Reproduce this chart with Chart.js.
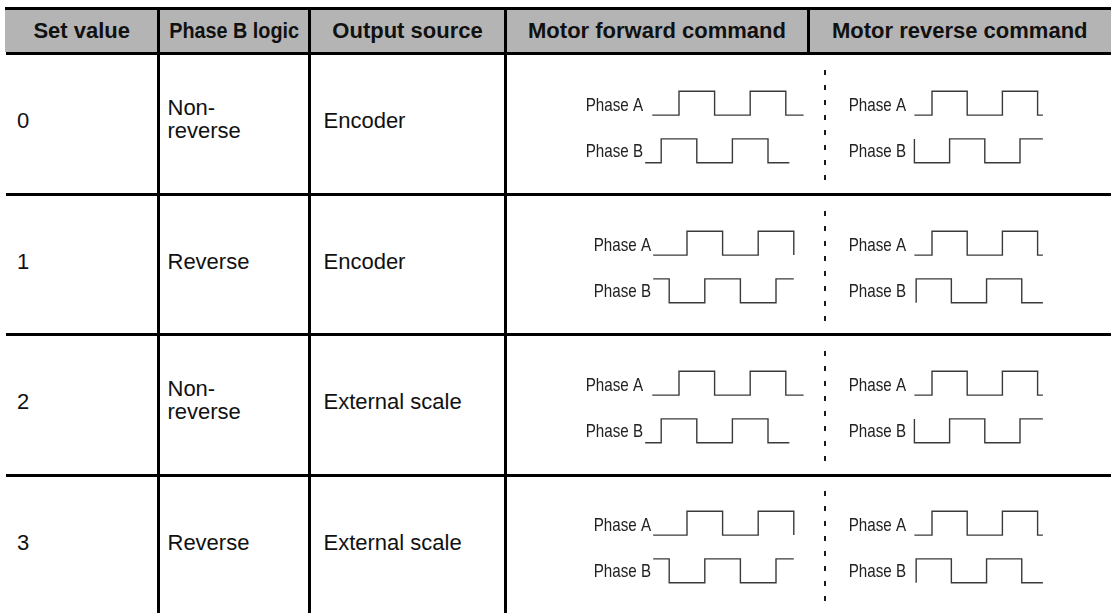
<!DOCTYPE html>
<html>
<head>
<meta charset="utf-8">
<script src="https://cdn.jsdelivr.net/npm/chart.js@4.4.1/dist/chart.umd.min.js"></script>
<style>
  html, body { margin: 0; padding: 0; background: #fff; }
  #page { position: relative; width: 1111px; height: 613px; overflow: hidden;
          font-family: "Liberation Sans", Arial, Helvetica, sans-serif; color: #111; }
  .rule { position: absolute; background: #000; }
  .headbg { position: absolute; background: #b4b4b4; }
  .txt { position: absolute; font-size: 22px; line-height: 22px; white-space: nowrap; }
  .head { font-weight: bold; text-align: center; }
  .narrow { display: inline-block; transform: scaleX(0.9); transform-origin: 50% 50%; }
  .dash { position: absolute; width: 2px;
          background: repeating-linear-gradient(to bottom, #1a1a1a 0 5px, transparent 5px 15px); }
  canvas.wave { position: absolute; }
</style>
</head>
<body>
<div id="page"></div>
<script>
// table text
const headers = ["Set value", "Phase B logic", "Output source", "Motor forward command", "Motor reverse command"];
const setValues = ["0", "1", "2", "3"];
const phaseBLogic = [["Non-", "reverse"], ["Reverse"], ["Non-", "reverse"], ["Reverse"]];
const outputSources = ["Encoder", "Encoder", "External scale", "External scale"];
const phaseLabels = ["Phase A", "Phase B"];

// pulse trains: [time in quarter periods, level]
const fwdNormalA = [[-1.5, 0], [0, 1], [2, 0], [4, 1], [6, 0], [7, 0]];
const fwdNormalB = [[-1.9, 0], [-1, 1], [1, 0], [3, 1], [5, 0], [6.2, 0]];
const fwdInvertA = [[-1.9, 0], [0, 1], [2, 0], [4, 1], [6, 0]];
const fwdInvertB = [[-1.9, 1], [-1, 0], [1, 1], [3, 0], [5, 1], [6, 1]];
const revNormalA = [[-1, 0], [0, 1], [2, 0], [4, 1], [6, 0], [6.3, 0]];
const revNormalB = [[-1, 1], [-1, 0], [1, 1], [3, 0], [5, 1], [6.3, 1]];
const revInvertA = [[-1, 0], [0, 1], [2, 0], [4, 1], [6, 0], [6.3, 0]];
const revInvertB = [[-0.9, 0], [-0.9, 1], [1.1, 0], [3.1, 1], [5.1, 0], [6.3, 0]];

// layout
const page = document.getElementById("page");
const COLS = [5, 158.5, 309.5, 505.5, 808.5, 1111];
const ROW_LINES = [52, 193, 333, 474];
const WAVE_TOPS = [77, 217, 357, 497];
const DASHES = [[70, 186], [211, 327], [351, 467], [491, 608]];
const AXIS_W = 65;
const WAVE_H = 100;
const LANE_A = 2;

function box(cls, left, top, width, height) {
  const el = document.createElement("div");
  el.className = cls;
  Object.assign(el.style, { left: left + "px", top: top + "px", width: width + "px", height: height + "px" });
  page.appendChild(el);
  return el;
}

function text(str, left, baseline, extra = "") {
  const el = document.createElement("div");
  el.className = "txt " + extra;
  el.style.left = left + "px";
  el.style.top = (baseline - 18.6) + "px";
  el.textContent = str;
  page.appendChild(el);
  return el;
}

// header band and rules
box("headbg", 5, 10, 1106, 42);
box("rule", 5, 7, 1106, 3);
ROW_LINES.forEach((y) => box("rule", 6, y, 1105, 3));
[157, 308, 504].forEach((x) => box("rule", x, 7, 3, 606));
box("rule", 807, 7, 3, 48);

headers.forEach((h, i) => {
  const el = text("", COLS[i], 39, "head");
  el.style.width = (COLS[i + 1] - COLS[i]) + "px";
  if (i === 1) {
    const span = document.createElement("span");
    span.className = "narrow";
    span.textContent = h;
    el.appendChild(span);
  } else {
    el.textContent = h;
  }
});

setValues.forEach((v, r) => {
  const base = ROW_LINES[r] + 1.5 + 75;
  text(v, 17, base);
  const logic = phaseBLogic[r];
  if (logic.length === 1) {
    text(logic[0], 167.5, base);
  } else {
    text(logic[0], 167.5, base - 12.5);
    text(logic[1], 167.5, base + 10.5);
  }
  text(outputSources[r], 323.5, base);
  box("dash", 824, DASHES[r][0], 2, DASHES[r][1] - DASHES[r][0]);
});

// "Phase A" / "Phase B" in a condensed face, right-aligned against the plot
const phaseLabelPlugin = {
  id: "phaseLabels",
  afterDraw(chart) {
    const { ctx, chartArea, scales } = chart;
    ctx.save();
    ctx.font = "18.5px 'Liberation Sans', Arial, sans-serif";
    ctx.fillStyle = "#222";
    ctx.textAlign = "right";
    ctx.textBaseline = "alphabetic";
    [[LANE_A + 0.5, phaseLabels[0], 7.5], [0.5, phaseLabels[1], 6]].forEach(([v, label, dy]) => {
      ctx.save();
      ctx.translate(chartArea.left - 2, scales.y.getPixelForValue(v) + dy);
      ctx.scale(0.82, 1);
      ctx.fillText(label, 0, 0);
      ctx.restore();
    });
    ctx.restore();
  },
};

const geom = {
  fwdNormal: { left: 580, width: 230, t0: 679, q: 17.8 },
  fwdInvert: { left: 588, width: 230, t0: 687, q: 17.8 },
  rev: { left: 843, width: 207, t0: 932, q: 17.6 },
};

function waveChart(row, g, phaseA, phaseB) {
  const canvas = document.createElement("canvas");
  canvas.className = "wave";
  canvas.width = g.width;
  canvas.height = WAVE_H;
  canvas.style.left = g.left + "px";
  canvas.style.top = WAVE_TOPS[row] + "px";
  page.appendChild(canvas);

  const line = (pts, lane) => ({
    data: pts.map(([t, level]) => ({ x: t, y: level + lane })),
    stepped: true,
    borderColor: "#3a3a3a",
    borderWidth: 1.4,
    pointRadius: 0,
    fill: false,
  });

  new Chart(canvas, {
    type: "line",
    data: { datasets: [line(phaseA, LANE_A), line(phaseB, 0)] },
    plugins: [phaseLabelPlugin],
    options: {
      responsive: false,
      animation: false,
      events: [],
      layout: { padding: { left: AXIS_W, right: 0, top: 0, bottom: 0 } },
      plugins: { legend: { display: false }, tooltip: { enabled: false } },
      scales: {
        x: {
          type: "linear",
          display: false,
          min: (g.left + AXIS_W - g.t0) / g.q,
          max: (g.left + g.width - g.t0) / g.q,
        },
        y: { type: "linear", display: false, min: -0.6, max: 3.6 },
      },
    },
  });
}

setValues.forEach((v, r) => {
  const inverted = phaseBLogic[r][0] === "Reverse";
  if (inverted) {
    waveChart(r, geom.fwdInvert, fwdInvertA, fwdInvertB);
    waveChart(r, geom.rev, revInvertA, revInvertB);
  } else {
    waveChart(r, geom.fwdNormal, fwdNormalA, fwdNormalB);
    waveChart(r, geom.rev, revNormalA, revNormalB);
  }
});
</script>
</body>
</html>
